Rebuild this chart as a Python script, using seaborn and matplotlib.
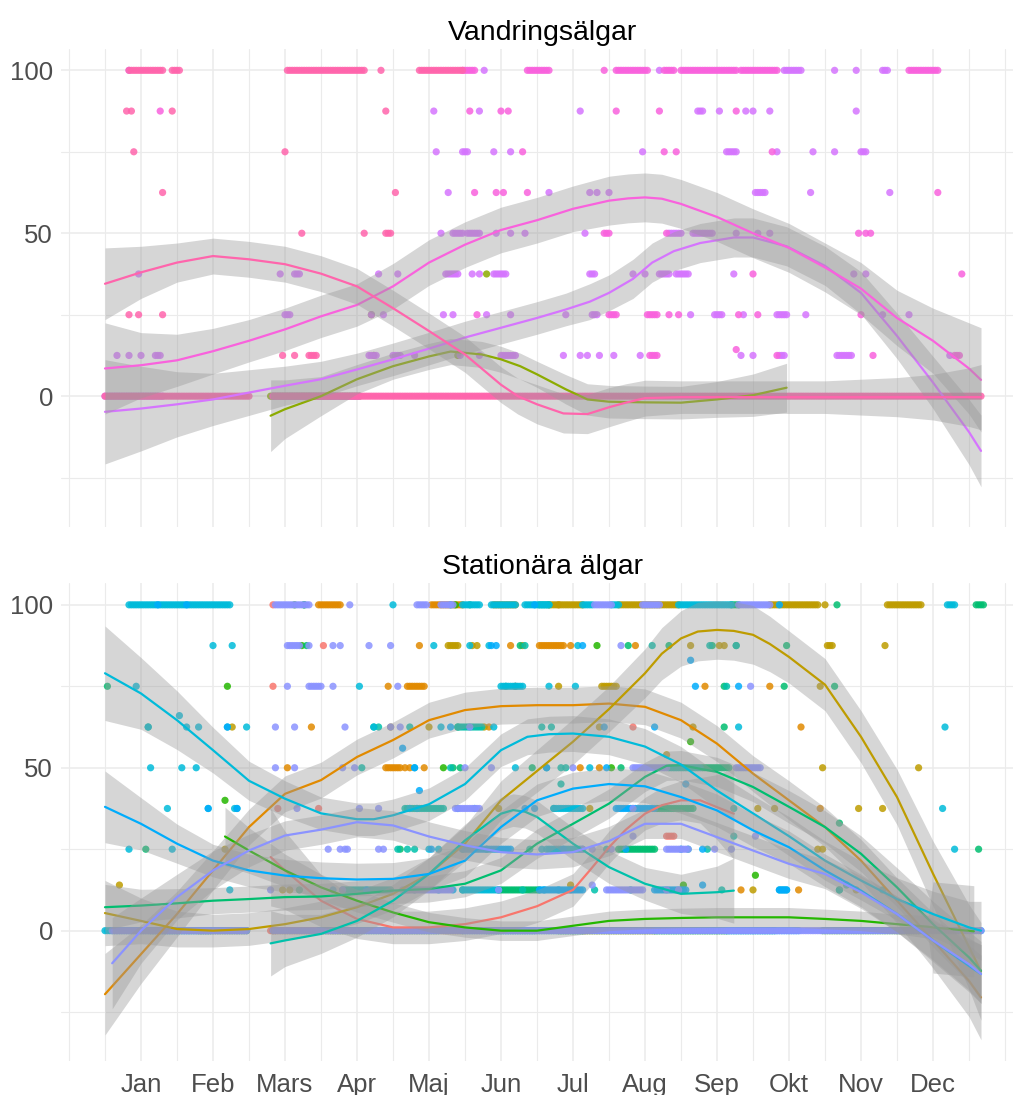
import numpy as np
import pandas as pd
import matplotlib
matplotlib.use("Agg")
import matplotlib.pyplot as plt
import seaborn as sns

sns.set_theme(style="white")
plt.rcParams['font.family'] = ['Liberation Sans', 'DejaVu Sans']

# ---------------------------------------------------------------- axis setup
MONTHS = ["Jan", "Feb", "Mars", "Apr", "Maj", "Jun", "Jul", "Aug", "Sep", "Okt", "Nov", "Dec"]
MONTH_DAYS = [16, 46, 76, 106, 136, 166, 196, 226, 256, 286, 316, 346]
MINOR_DAYS = [-14, 1, 31, 61, 91, 121, 151, 181, 211, 241, 271, 301, 331, 361, 376]

# ---------------------------------------------------------------- group colours
COLORS = {
    "A": "#F8766D", "B": "#E18A00", "C": "#BE9C00", "D": "#8CAB00",
    "E": "#24B700", "F": "#00BE70", "G": "#00C1AB", "H": "#00BBDA",
    "I": "#00ACFC", "J": "#8B93FF", "K": "#D575FE", "L": "#F962DD",
    "M": "#FF65AC",
}

# ---------------------------------------------------------------- smooth fits
KNOTS = [1, 16, 31, 46, 61, 76, 91, 106, 121, 136, 151, 166, 181, 196, 211,
         226, 241, 256, 271, 286, 301, 316, 331, 346, 361, 366]

# Vandringsälgar
m_days = [1, 16, 31, 46, 61, 76, 91, 106, 121, 136, 151, 166, 173, 181, 192, 202, 211,
          218, 226, 241, 256, 271, 286, 301, 316, 331, 346, 361, 366]
m_fit = [34.5, 38, 41, 43, 42, 40.5, 37.6, 33.7, 27, 20, 12.8, 3.5, 0, -2.5, -5.3, -5.5, -3.4,
         -2, -0.6, -0.3, -0.3, -0.3, -0.3, -0.3, -0.3, -0.3, -0.3, -0.3, -0.3]
m_se = [11, 8, 6, 5.5, 5.5, 5.5, 5.5, 5.5, 5.5, 5.5, 5.5, 5.5, 5.5, 6, 6, 6, 6,
        5.8, 5.5, 5, 5, 5, 5, 5, 5.5, 6, 7, 9, 10]
l_days = [1, 16, 31, 46, 61, 76, 91, 106, 121, 136, 151, 166, 181, 196, 211, 219, 226,
          233, 241, 256, 271, 286, 301, 316, 331, 346, 361, 366]
l_fit = [8.5, 9.5, 11, 13.8, 17, 20.5, 24.5, 28, 33.7, 41, 46.5, 51, 54, 57.5, 60, 60.7, 61,
         60.6, 59, 55, 50, 45.5, 39.5, 33, 24, 17, 8.5, 5]
l_se = [14, 10, 8, 7, 6.5, 6.5, 6.5, 6.5, 7, 7, 7, 7, 7, 7, 7.5, 7.5, 7.5,
        7.5, 7.5, 7.5, 7.5, 7.5, 7.5, 8, 8.5, 10, 14, 16]
k_days = [1, 16, 31, 46, 61, 76, 91, 106, 121, 136, 151, 166, 181, 193, 203, 211, 221,
          229, 238, 249, 263, 271, 285, 301, 316, 331, 346, 361, 366]
k_fit = [-4.8, -3.8, -2.5, -1, 1.1, 3.2, 5.2, 8.2, 11.3, 14.6, 18, 21, 24, 26.6, 29, 31.7, 36,
         41, 44.5, 47, 48.7, 48.7, 46, 40, 31.7, 18.5, 4.2, -11, -16.8]
k_se = [16, 13, 10, 8, 7, 6, 5.5, 5, 5, 5, 5, 5, 5, 5, 5.5, 5.5, 6,
        6, 6, 6, 6, 6, 6, 6, 6.5, 7, 8, 10, 11]
d_days = [70, 76, 91, 106, 121, 136, 145, 151, 158, 166, 174, 181, 193, 202, 211, 226, 241,
          256, 271, 285]
d_fit = [-6, -4, 0, 5.2, 9.2, 12.2, 13.7, 13.3, 12.8, 11.3, 9.2, 6.7, 2.1, -1, -1.7, -1.9, -2,
         -1, 0.3, 2.6]
d_se = [11, 9, 6, 4.5, 4, 4, 4, 4, 4, 4, 4, 4, 4.5, 4.8, 5, 5, 5, 5.5, 6.5, 7.5]

# Stationära älgar
a_days = [70, 76, 91, 106, 121, 136, 151, 166, 181, 196, 203, 211, 218, 226, 233, 241, 249,
          256, 263]
a_fit = [22.6, 18.5, 9.2, 3.6, 1, 1, 2, 4.1, 7.5, 12.5, 18.5, 25.6, 31, 35.9, 38.5, 40, 40,
         37.9, 35.9]
a_se = [15, 12, 8, 6, 5, 5, 5, 5, 5, 5, 5, 5, 5, 5, 5.5, 6, 7, 10, 14]
b_fit = [-19.5, -7.2, 5.1, 18.5, 31.8, 42, 46.2, 53.3, 58.5, 64.6, 67.7, 68.9, 69.2, 69.2, 69.7,
         68.7, 64.6, 57.4, 48.2, 40, 31.8, 21.5, 9.2, -3, -15.4, -20.5]
b_se = [12.5, 9, 7, 6, 5.5, 5.5, 5.5, 5.5, 5.5, 5.5, 5.5, 5.5, 5.5, 5.5, 5.5,
        5.5, 5.5, 5.5, 5.5, 6, 6, 6.5, 7, 8.5, 11, 13]
c_days = [1, 16, 31, 46, 61, 76, 91, 106, 121, 136, 151, 166, 181, 196, 211, 226, 233, 241,
          248, 256, 263, 271, 278, 286, 301, 316, 331, 346, 361, 366]
c_fit = [5.4, 3, 0.5, 0, 0.5, 2, 4.1, 7.2, 11.3, 17.4, 26.7, 40, 49, 58, 68, 79, 85, 89.7,
         91.8, 92.3, 92, 90.8, 88, 84, 75.5, 59.5, 41, 17.5, -5, -12.5]
c_se = [10, 7, 5.5, 5, 5, 5, 5, 5, 5, 5, 5.5, 6, 6.5, 7, 7, 7.5, 8, 8.5,
        9, 9, 9, 9, 8.5, 8, 8, 8, 8.5, 10, 13, 15]
e_days = [51, 61, 76, 91, 106, 121, 136, 151, 166, 181, 196, 211, 226, 241, 256,
          271, 286, 301, 316, 331, 344, 346, 363]
e_fit = [28.9, 24.6, 18.5, 13.3, 9.2, 5.6, 2.6, 1, 0, 0, 1.5, 3, 3.6, 3.9, 4.1,
         4.1, 4.1, 3.6, 3, 2, 1.2, 1, -0.2]
e_se = [9, 7, 5, 4, 3.5, 3, 3, 3, 3, 3, 3, 3, 3, 3, 3,
        3, 3, 3, 3, 3, 3.5, 14, 14]
f_days = [1, 16, 31, 46, 61, 76, 91, 106, 121, 136, 151, 166, 181, 196, 211, 226, 235, 241,
          256, 271, 286, 301, 316, 331, 346, 361, 366]
f_fit = [7.2, 7.7, 8.4, 9.2, 9.7, 10.3, 10.5, 11.3, 12.3, 12.8, 14.4, 18.5, 26.7, 32.8, 39,
         47.2, 50.6, 50.8, 48.7, 44.1, 38, 31.8, 23.6, 13.3, 2, -8.2, -12.3]
f_se = [7, 5, 4.5, 4, 4, 4, 4, 4, 4, 4, 4, 4, 4.5, 4.5, 4.5,
        4.5, 4.5, 4.5, 4.5, 4.5, 5, 5, 5.5, 6, 7, 8, 9]
g_days = [70, 76, 91, 106, 121, 136, 151, 166, 171, 176, 181, 196, 211, 226, 241, 256, 263]
g_fit = [-3.9, -3, -1, 3, 9.2, 17.4, 27.7, 35.9, 37, 36.5, 34.9, 26.7, 19.5, 14.4, 11.3,
         11.8, 12.3]
g_se = [10, 8, 6, 5, 5, 5, 5, 5, 5, 5, 5, 5, 5, 5, 6, 8, 10]
h_days = [1, 16, 31, 46, 61, 76, 91, 106, 113, 121, 136, 151, 166, 177, 186, 196, 211,
          226, 241, 256, 271, 286, 301, 316, 331, 346, 361, 366]
h_fit = [79, 72.8, 64.6, 55.4, 46, 40.5, 36, 34.2, 34.2, 35.4, 38.8, 45, 55.4, 59.5, 60.3,
         60.5, 59.5, 56.5, 51, 43, 36, 29, 21.5, 15.4, 9.7, 5.1, 1, 0]
h_se = [14.5, 11, 9, 7, 6, 5.5, 5, 5, 5, 5, 5, 5, 5, 5.5, 5.5, 5.5, 5.5,
        5.5, 5.5, 5.5, 5.5, 6, 6, 6, 6.5, 7, 8, 9]
i_fit = [38, 32.8, 26.7, 21.5, 18.5, 16.9, 16.1, 15.7, 15.9, 17.4, 21.5, 31.8, 40, 43.6, 45,
         44.3, 41, 36.9, 30.8, 25.6, 18.5, 12.3, 5.1, -3, -10.8, -13.3]
i_se = [11, 8, 6, 5, 5, 5, 5, 5, 5, 5, 5, 5, 5, 5, 5,
        5, 5, 5, 5, 5, 5, 5, 5.5, 6.5, 8, 9]
j_days = [4] + KNOTS[1:]
j_fit = [-10, 0, 10.3, 18.5, 24.6, 29.2, 31, 33.3, 32.3, 28.9, 26.2, 24.1, 23.4, 24.1, 27.5,
         32.8, 32.8, 28.7, 24.6, 20.5, 17.4, 11.8, 5.1, -3, -10.3, -13.3]
j_se = [14, 10, 7, 6, 5, 4.5, 4.5, 4.5, 4.5, 4.5, 4.5, 4.5, 4.5, 4.5, 4.5,
        4.5, 4.5, 4.5, 4.5, 4.5, 4.5, 5, 5.5, 6, 8, 9]

# ---------------------------------------------------------------- observations
# (value, day) or (value, first_day, last_day) for runs of daily observations
pts_d = [(0, 70, 107), (12.5, 113), (25, 112), (12.5, 148), (37.5, 160)]
pts_k = [
    (100, 11), (100, 159), (100, 232), (100, 284, 291), (100, 305), (100, 314), (100, 325, 327),
    (87.5, 138), (87.5, 157), (87.5, 199), (87.5, 248, 250), (87.5, 257), (87.5, 268),
    (87.5, 271), (87.5, 278), (87.5, 314),
    (75, 139), (75, 150, 152), (75, 163), (75, 170), (75, 225), (75, 260, 264), (75, 281),
    (75, 296), (75, 305), (75, 316, 318),
    (62.5, 144), (62.5, 186), (62.5, 203), (62.5, 206), (62.5, 211), (62.5, 272, 276),
    (62.5, 295), (62.5, 328),
    (50, 141), (50, 146, 150), (50, 152, 157), (50, 164), (50, 170), (50, 176), (50, 201),
    (50, 236, 241), (50, 246, 254), (50, 264), (50, 273), (50, 278),
    (37.5, 15), (37.5, 74), (37.5, 80, 82), (37.5, 115), (37.5, 123), (37.5, 143, 148),
    (37.5, 154), (37.5, 157), (37.5, 163, 168), (37.5, 203, 205), (37.5, 221), (37.5, 226),
    (37.5, 232, 236), (37.5, 239, 244), (37.5, 263), (37.5, 313), (37.5, 318),
    (25, 76, 78), (25, 112), (25, 117), (25, 142), (25, 146), (25, 160), (25, 170), (25, 193),
    (25, 204, 206), (25, 245), (25, 255, 258), (25, 267), (25, 281, 285), (25, 293), (25, 325),
    (25, 336),
    (12.5, 6), (12.5, 11), (12.5, 16), (12.5, 22, 24), (12.5, 111, 114), (12.5, 121, 124),
    (12.5, 130), (12.5, 149), (12.5, 157), (12.5, 166, 172), (12.5, 192), (12.5, 199),
    (12.5, 202), (12.5, 207), (12.5, 213), (12.5, 224), (12.5, 266), (12.5, 271),
    (12.5, 282, 284), (12.5, 306, 312), (12.5, 353),
    (0, 1, 25), (0, 71, 107),
]
pts_l = [
    (100, 150, 155), (100, 177, 186), (100, 209), (100, 214, 227), (100, 234, 238),
    (100, 241, 264), (100, 266, 281), (100, 336, 348),
    (87.5, 24), (87.5, 153), (87.5, 166), (87.5, 169), (87.5, 214), (87.5, 232), (87.5, 264),
    (75, 175), (75, 234), (75, 239), (75, 279),
    (62.5, 155), (62.5, 164), (62.5, 167), (62.5, 177), (62.5, 348),
    (50, 209, 211), (50, 235), (50, 315), (50, 318), (50, 320),
    (37.5, 271), (37.5, 358),
    (25, 156), (25, 211, 214), (25, 227, 231), (25, 236), (25, 240), (25, 265), (25, 273),
    (25, 316),
    (14.3, 264), (12.5, 228, 231), (12.5, 281), (12.5, 321), (12.5, 355, 357),
]
pts_m = [
    (100, 11, 25), (100, 29, 32), (100, 77, 109), (100, 116), (100, 132, 150),
    (87.5, 10), (87.5, 12), (87.5, 29), (87.5, 118),
    (75, 13), (75, 76),
    (62.5, 25), (62.5, 122),
    (50, 83), (50, 109), (50, 118, 120),
    (25, 11), (25, 15), (25, 25),
    (12.5, 75), (12.5, 80), (12.5, 86, 89),
    (0, 1, 61), (0, 71, 366),
]

pts_a = [(100, 71), (87.5, 92), (75, 71), (75, 172), (62.5, 221), (37.5, 73), (37.5, 90),
         (29, 235, 238), (12.5, 195), (0, 70, 72)]
pts_b = [
    (100, 90, 99), (100, 137, 150), (100, 163, 172), (100, 190),
    (87.5, 132), (87.5, 170), (87.5, 175), (87.5, 182, 192), (87.5, 195), (87.5, 222),
    (75, 119), (75, 127, 134), (75, 251), (75, 278),
    (62.5, 87), (62.5, 161), (62.5, 291),
    (50, 77), (50, 118, 124), (50, 126), (50, 128), (50, 134), (50, 199), (50, 207),
    (37.5, 299), (12.5, 266), (12.5, 290),
    (0, 71, 100), (0, 200, 230),
]
pts_c = [
    (100, 186, 200), (100, 215, 240), (100, 278, 298), (100, 301), (100, 327, 341),
    (87.5, 144, 148), (87.5, 154), (87.5, 156), (87.5, 245), (87.5, 257), (87.5, 259),
    (87.5, 302, 304), (87.5, 326),
    (75, 190), (75, 208, 214), (75, 299),
    (62.5, 54), (62.5, 120), (62.5, 136), (62.5, 159), (62.5, 207), (62.5, 246),
    (54, 235), (50, 300), (50, 340),
    (37.5, 165), (37.5, 203), (37.5, 273), (37.5, 280), (37.5, 315), (37.5, 325),
    (25, 51), (25, 298), (25, 300),
    (14, 7), (14, 195), (12.5, 75), (12.5, 78), (12.5, 271), (12.5, 314),
    (0, 40, 60), (0, 120, 150),
]
pts_e = [(100, 80), (100, 84), (100, 147), (87.5, 83), (87.5, 206), (75, 52), (58, 245),
         (50, 142), (50, 212), (40, 51), (17, 272), (14, 242), (0, 190, 260), (0, 300, 340)]
pts_f = [
    (100, 84), (100, 153), (100, 262, 265), (100, 306), (100, 364, 367),
    (87.5, 85), (87.5, 174), (87.5, 219), (87.5, 236), (87.5, 254), (87.5, 264), (87.5, 285),
    (75, 2), (75, 259), (75, 284), (75, 305),
    (62.5, 19), (62.5, 148), (62.5, 259),
    (50, 146), (50, 149), (50, 179), (50, 216), (50, 250, 261),
    (37.5, 231, 246), (33, 307),
    (25, 18), (25, 124), (25, 150), (25, 160), (25, 215, 230), (25, 365),
    (12.5, 82), (12.5, 130), (12.5, 165, 182), (12.5, 307),
    (0, 90, 120), (0, 230, 280),
]
pts_g = [
    (100, 182, 186),
    (87.5, 176), (87.5, 229), (87.5, 253), (87.5, 264),
    (75, 168), (75, 172), (75, 260),
    (62.5, 113), (62.5, 115), (62.5, 128), (62.5, 148, 158), (62.5, 183), (62.5, 187),
    (50, 108), (50, 145), (50, 185), (50, 191), (50, 193), (50, 236, 249),
    (45, 191), (37.5, 126, 142), (37.5, 188), (37.5, 263), (29, 263),
    (25, 123), (25, 127), (25, 130), (25, 178), (25, 210), (25, 244), (25, 252),
    (14, 310), (12.5, 100, 120), (12.5, 150), (12.5, 175), (12.5, 205), (12.5, 220),
    (12.5, 258), (12.5, 307), (12.5, 325),
    (0, 160, 200),
]
pts_h = [
    (100, 11, 53), (100, 121), (100, 150, 157), (100, 162, 172), (100, 176, 186),
    (100, 200, 204), (100, 212, 215), (100, 240, 262), (100, 352, 355),
    (87.5, 46), (87.5, 54), (87.5, 138), (87.5, 153), (87.5, 161), (87.5, 198),
    (75, 14), (75, 107), (75, 166, 175), (75, 186), (75, 197),
    (66, 32), (62.5, 19), (62.5, 35), (62.5, 40), (62.5, 52), (62.5, 60), (62.5, 113),
    (62.5, 141), (62.5, 163), (62.5, 265), (62.5, 351),
    (50, 20), (50, 33), (50, 39), (50, 130), (50, 172), (50, 203),
    (37.5, 27), (37.5, 44), (37.5, 55, 56), (37.5, 128), (37.5, 131), (37.5, 188, 200),
    (37.5, 350),
    (25, 11), (25, 29), (25, 136), (25, 140), (25, 183), (25, 185, 200), (25, 355),
    (12.5, 53), (12.5, 140), (12.5, 150, 165), (12.5, 184), (12.5, 190), (12.5, 282, 285),
    (0, 1, 60), (0, 120, 140), (0, 366),
]
pts_i = [
    (100, 23), (100, 35), (100, 145), (100, 180), (100, 282),
    (87.5, 162), (87.5, 164), (87.5, 200),
    (83, 245), (75, 247), (75, 265),
    (62.5, 52), (62.5, 145), (62.5, 209), (62.5, 230),
    (56, 125), (50, 130), (50, 185), (50, 210),
    (45, 243), (43, 132),
    (37.5, 44), (37.5, 56), (37.5, 148), (37.5, 155), (37.5, 176), (37.5, 180), (37.5, 214, 230),
    (25, 137), (25, 150, 170), (25, 192), (25, 218), (25, 241), (25, 250),
    (14, 250), (12.5, 96), (12.5, 110), (12.5, 146), (12.5, 182, 200), (12.5, 230, 243),
    (12.5, 282, 285),
    (0, 20, 45), (0, 150, 180), (0, 260, 290),
]
pts_j = [
    (100, 72, 86), (100, 103), (100, 131, 135), (100, 141, 146), (100, 205, 212),
    (100, 225, 232), (100, 265, 278),
    (87.5, 77, 82), (87.5, 86), (87.5, 96), (87.5, 99), (87.5, 111), (87.5, 120), (87.5, 216),
    (75, 77), (75, 86, 91), (75, 96), (75, 123), (75, 270),
    (62.5, 72), (62.5, 80), (62.5, 101), (62.5, 120), (62.5, 124), (62.5, 153),
    (50, 72), (50, 80), (50, 100), (50, 105), (50, 151), (50, 162), (50, 196),
    (50, 221, 235), (50, 264, 274),
    (37.5, 81), (37.5, 107), (37.5, 115), (37.5, 147, 157), (37.5, 221),
    (29, 221), (29, 272),
    (25, 94), (25, 99), (25, 101, 102), (25, 115), (25, 117), (25, 200), (25, 204),
    (25, 212), (25, 235, 244), (25, 255), (25, 262),
    (14, 204), (12.5, 70), (12.5, 100), (12.5, 125, 145), (12.5, 165), (12.5, 210, 225),
    (12.5, 235), (12.5, 240),
    (0, 4, 60), (0, 71, 366),
]

TOP_POINTS = {"D": pts_d, "K": pts_k, "L": pts_l, "M": pts_m}
BOTTOM_POINTS = {"A": pts_a, "B": pts_b, "C": pts_c, "E": pts_e, "F": pts_f,
                 "G": pts_g, "H": pts_h, "I": pts_i, "J": pts_j}

TOP_FITS = {"D": (d_days, d_fit, d_se), "K": (k_days, k_fit, k_se),
            "L": (l_days, l_fit, l_se), "M": (m_days, m_fit, m_se)}
BOTTOM_FITS = {"A": (a_days, a_fit, a_se), "B": (KNOTS, b_fit, b_se),
               "C": (c_days, c_fit, c_se), "E": (e_days, e_fit, e_se),
               "F": (f_days, f_fit, f_se), "G": (g_days, g_fit, g_se),
               "H": (h_days, h_fit, h_se), "I": (KNOTS, i_fit, i_se),
               "J": (j_days, j_fit, j_se)}


def expand(points, group):
    rows = []
    for p in points:
        value, first = p[0], p[1]
        last = p[2] if len(p) == 3 else first
        for day in np.arange(first, last + 1, 1.0):
            rows.append((group, day, value))
    return rows


def build_frame(groups):
    rows = []
    for g, pts in groups.items():
        rows.extend(expand(pts, g))
    return pd.DataFrame(rows, columns=["group", "day", "value"])


def draw_panel(ax, points, fits):
    df = build_frame(points)
    sns.scatterplot(data=df, x="day", y="value", hue="group", palette=COLORS,
                    s=27, alpha=0.85, linewidth=0, legend=False, ax=ax, zorder=2)
    for g, (days, fit, se) in fits.items():
        days = np.asarray(days, float)
        fit = np.asarray(fit, float)
        se = np.asarray(se, float)
        ax.fill_between(days, fit - se, fit + se, color="#999999", alpha=0.4,
                        linewidth=0, zorder=3)
        sns.lineplot(x=days, y=fit, color=COLORS[g], linewidth=1.6, sort=False,
                     estimator=None, ax=ax, zorder=3)


fig = plt.figure(figsize=(10.13, 10.95), dpi=100)
W, H = 1013, 1095
left, right = 61.2, 1024.8
ax_top = fig.add_axes([left / W, 1 - 526.5 / H, (right - left) / W, 478 / H])
ax_bot = fig.add_axes([left / W, 1 - 1061 / H, (right - left) / W, 478 / H])

draw_panel(ax_top, TOP_POINTS, TOP_FITS)
draw_panel(ax_bot, BOTTOM_POINTS, BOTTOM_FITS)

for ax in (ax_top, ax_bot):
    ax.set_xlim(-17.25, 384.25)
    ax.set_ylim(-40, 106.7)
    ax.set_xticks(MONTH_DAYS)
    ax.set_xticks(MINOR_DAYS, minor=True)
    ax.set_yticks([0, 50, 100])
    ax.set_yticks([-25, 25, 75], minor=True)
    ax.grid(which="major", color="#EBEBEB", linewidth=1.1)
    ax.grid(which="minor", color="#EBEBEB", linewidth=0.8)
    ax.set_axisbelow(True)
    for s in ax.spines.values():
        s.set_visible(False)
    ax.tick_params(which="both", length=0)
    ax.tick_params(axis="y", labelsize=18.5, labelcolor="#4D4D4D", pad=5.8)
    ax.tick_params(axis="x", labelsize=18.5, labelcolor="#4D4D4D", pad=8.5)
    ax.set_xlabel("")
    ax.set_ylabel("")
    ax.set_facecolor("white")

ax_top.set_xticklabels([])
ax_bot.set_xticklabels(MONTHS)

cx = (left + right) / 2 / W
fig.text(cx, 1 - 40 / H, "Vandringsälgar", ha="center", va="baseline", fontsize=20.5, color="black")
fig.text(cx, 1 - 573.5 / H, "Stationära älgar", ha="center", va="baseline", fontsize=20.5, color="black")

fig.savefig("out.png", dpi=100, facecolor="white")
